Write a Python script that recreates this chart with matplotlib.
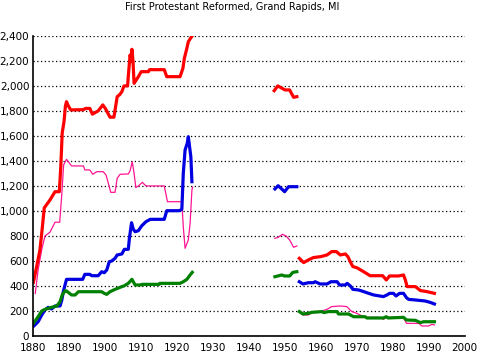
import matplotlib
matplotlib.use("Agg")
import matplotlib.pyplot as plt
from matplotlib.ticker import FuncFormatter
import numpy as np

nan = np.nan

# red series (thick)
red_years = [1880.0, 1880.7, 1881.8, 1882.4, 1883.0, 1884.6, 1886.0, 1887.2, 1887.6, 1888.0,
             1888.5, 1888.9, 1889.2, 1889.7, 1890.4, 1893.9, 1894.5, 1895.7, 1896.4, 1898.0,
             1899.3, 1900.0, 1901.3, 1902.4, 1903.3, 1904.0, 1904.6, 1905.2, 1906.2, 1906.4,
             1906.9, 1907.2, 1907.4, 1907.7, 1908.0, 1909.2, 1910.0, 1912.0, 1912.3, 1916.4,
             1917.1, 1920.8, 1921.6, 1922.0, 1922.7, 1923.1, 1924.2,
             1935,
             1947.0, 1948.0, 1950.0, 1951.3, 1952.4, 1953.3,
             1953.6,
             1954.0, 1955.2, 1956.5, 1957.9, 1960.0, 1961.7, 1963.0, 1964.3, 1965.4, 1966.8,
             1967.5, 1968.4, 1968.9, 1970.0, 1971.9, 1973.7, 1977.2, 1978.2, 1979.1, 1981.6,
             1983.0, 1983.5, 1984.0, 1986.3, 1987.7, 1989.5, 1991.6]
red_vals = [430, 528, 688, 848, 1024, 1088, 1154, 1154, 1350, 1624,
            1714, 1840, 1874, 1840, 1808, 1810, 1820, 1820, 1774, 1800,
            1848, 1820, 1750, 1750, 1914, 1930, 1954, 2000, 2000, 2080,
            2248, 2200, 2293, 2200, 2021, 2074, 2114, 2114, 2130, 2130,
            2074, 2074, 2141, 2221, 2301, 2354, 2402,
            nan,
            1962, 2000, 1968, 1968, 1909, 1914,
            nan,
            621, 587, 608, 627, 635, 648, 675, 675, 648, 656,
            635, 581, 555, 546, 514, 482, 482, 448, 480, 480,
            488, 448, 395, 395, 363, 355, 341]

# pink series (thin)
pink_years = [1880.5, 1881.3, 1882.3, 1883.2, 1884.6, 1886.0, 1887.3, 1887.8, 1888.4, 1889.2,
              1890.6, 1893.9, 1894.3, 1895.7, 1896.5, 1897.6, 1899.4, 1900.2, 1901.1, 1901.5,
              1902.7, 1903.3, 1904.1, 1906.4, 1906.9, 1907.5, 1908.0, 1908.5, 1909.2, 1910.3,
              1911.3, 1916.4, 1917.3, 1921.3, 1921.7, 1922.2, 1923.1, 1923.6, 1924.1, 1924.3,
              1935,
              1947.2, 1948.1, 1949.3, 1950.3, 1951.3, 1952.4, 1953.3,
              1953.6,
              1954.0, 1955.0, 1956.5, 1957.5, 1960.3, 1961.7, 1963.0, 1965.4, 1967.2, 1968.6,
              1970.0, 1970.9, 1972.3, 1976.5, 1977.4, 1978.2, 1983.0, 1983.8, 1987.2, 1988.1,
              1990.0, 1990.9, 1991.6]
pink_vals = [340, 530, 690, 800, 830, 910, 910, 1100, 1368, 1413,
             1360, 1360, 1328, 1328, 1293, 1314, 1314, 1288, 1194, 1149,
             1149, 1261, 1293, 1296, 1322, 1394, 1301, 1187, 1200, 1229,
             1200, 1200, 1074, 1074, 874, 701, 768, 901, 1168, 1190,
             nan,
             781, 789, 813, 800, 768, 709, 720,
             nan,
             195, 168, 168, 187, 200, 213, 235, 240, 235, 195,
             181, 168, 149, 149, 133, 149, 149, 101, 101, 80,
             80, 93, 88]

# blue series (thick)
blue_years = [1880.1, 1881.3, 1882.3, 1883.2, 1884.1, 1885.0, 1886.0, 1887.4, 1887.9, 1888.3,
              1889.2, 1893.7, 1894.3, 1895.7, 1896.2, 1898.0, 1899.0, 1899.7, 1900.4, 1901.1,
              1901.8, 1902.7, 1903.3, 1904.6, 1905.3, 1906.4, 1906.7, 1907.3, 1907.8, 1908.3,
              1909.2, 1910.1, 1911.3, 1912.5, 1916.4, 1917.1, 1920.6, 1921.3, 1921.7, 1922.2,
              1922.8, 1923.1, 1923.8, 1924.1,
              1935,
              1947.2, 1948.1, 1948.9, 1949.9, 1951.0, 1953.3,
              1953.6,
              1954.0, 1955.0, 1956.5, 1957.9, 1958.4, 1959.8, 1961.7, 1962.8, 1964.5, 1965.2,
              1966.8, 1967.3, 1968.2, 1968.9, 1970.5, 1971.9, 1973.3, 1974.7, 1977.4, 1978.4,
              1979.1, 1980.2, 1980.9, 1981.9, 1983.0, 1983.8, 1984.4, 1986.3, 1989.0, 1990.4,
              1991.6]
blue_vals = [80, 114, 168, 208, 229, 216, 240, 240, 288, 354,
             453, 453, 493, 493, 482, 482, 514, 506, 528, 594,
             600, 621, 648, 656, 693, 693, 781, 906, 853, 834,
             842, 880, 914, 933, 933, 1002, 1002, 1013, 1301, 1488,
             1541, 1594, 1434, 1234,
             nan,
             1176, 1202, 1181, 1154, 1194, 1194,
             nan,
             434, 416, 426, 426, 434, 416, 416, 434, 434, 408,
             408, 421, 400, 373, 368, 355, 341, 328, 315, 328,
             341, 341, 320, 341, 341, 307, 293, 288, 280, 269,
             256]

# green series (thick)
green_years = [1880.1, 1881.3, 1882.3, 1883.2, 1885.0, 1886.5, 1887.4, 1888.0, 1888.8, 1889.2,
               1890.6, 1891.6, 1892.5, 1899.0, 1899.7, 1900.4, 1901.3, 1902.7, 1904.1, 1905.3,
               1906.4, 1907.4, 1908.3, 1909.9, 1910.2, 1915.0, 1915.2, 1920.8, 1921.7, 1922.7,
               1923.6, 1924.2,
               1935,
               1947.2, 1949.1, 1949.9, 1951.3, 1952.2, 1953.3,
               1953.6,
               1954.0, 1955.0, 1956.5, 1957.5, 1960.3, 1960.8, 1962.1, 1964.5, 1964.9, 1967.7,
               1968.2, 1969.1, 1972.3, 1972.8, 1977.4, 1978.2, 1978.7, 1983.0, 1983.8, 1986.3,
               1987.7, 1988.6, 1991.6]
green_vals = [106, 154, 200, 213, 229, 240, 274, 328, 362, 360,
              328, 328, 354, 354, 341, 333, 354, 373, 389, 402,
              421, 453, 408, 408, 413, 413, 421, 421, 434, 453,
              488, 509,
              nan,
              474, 488, 480, 480, 509, 514,
              nan,
              195, 176, 181, 189, 195, 187, 195, 195, 176, 176,
              168, 154, 154, 144, 144, 154, 144, 149, 128, 125,
              107, 114, 114]

fig = plt.figure(figsize=(4.78, 3.52), dpi=100)
ax = fig.add_axes([0.070, 0.0455, 0.902, 0.8525])

ax.plot(pink_years, pink_vals, color='#ff1493', lw=0.9)
ax.plot(blue_years, blue_vals, color='#0000e0', lw=2.3)
ax.plot(green_years, green_vals, color='#008000', lw=2.3)
ax.plot(red_years, red_vals, color='#ff0000', lw=2.3)

ax.set_xlim(1880, 2000)
ax.set_ylim(0, 2400)
ax.set_xticks(range(1880, 2001, 10))
ax.set_yticks(range(0, 2401, 200))
ax.yaxis.set_major_formatter(FuncFormatter(lambda v, p: f"{int(v):,}"))
ax.tick_params(axis='y', length=0, labelsize=7.5, pad=3)
ax.tick_params(axis='x', length=0, labelsize=7.5, pad=5)

# dotted horizontal grid
ax.grid(axis='y', color='black', linestyle=(0, (1, 2)), lw=0.9)
ax.set_axisbelow(True)
for s in ['top', 'right']:
    ax.spines[s].set_visible(False)
for s in ['left', 'bottom']:
    ax.spines[s].set_linewidth(1.2)

fig.text(0.486, 0.980, "First Protestant Reformed, Grand Rapids, MI",
         ha='center', va='center', fontsize=7)

plt.savefig("out.png", dpi=100)
plt.close()
